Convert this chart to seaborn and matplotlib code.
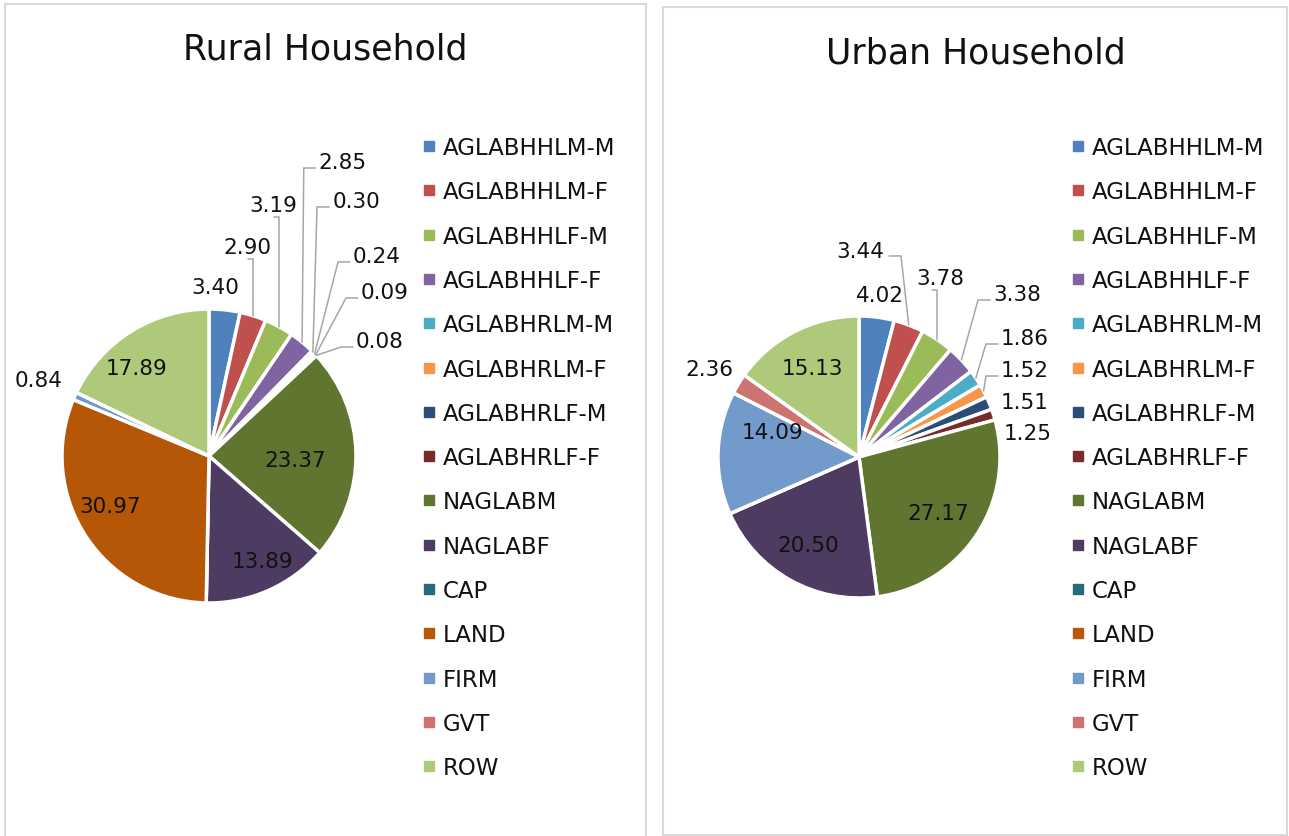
import numpy as np
import matplotlib
matplotlib.use('Agg')
import matplotlib.pyplot as plt
import seaborn as sns
from matplotlib.lines import Line2D

categories = ['AGLABHHLM-M', 'AGLABHHLM-F', 'AGLABHHLF-M', 'AGLABHHLF-F',
              'AGLABHRLM-M', 'AGLABHRLM-F', 'AGLABHRLF-M', 'AGLABHRLF-F',
              'NAGLABM', 'NAGLABF', 'CAP', 'LAND', 'FIRM', 'GVT', 'ROW']
rural = [3.40, 2.90, 3.19, 2.85, 0.30, 0.24, 0.09, 0.08,
         23.37, 13.89, 0.0, 30.97, 0.84, 0.0, 17.89]
urban = [4.02, 3.44, 3.78, 3.38, 1.86, 1.52, 1.51, 1.25,
         27.17, 20.50, 0.0, 0.0, 14.09, 2.36, 15.13]
titles = ['Rural Household', 'Urban Household']

colors = ['#4F81BD', '#C0504D', '#9BBB59', '#8064A2', '#4BACC6', '#F79646',
          '#2C4D75', '#772C2A', '#5F7530', '#4D3B62', '#276A7C', '#B65708',
          '#729ACA', '#CD7371', '#AFC97A']

# label placement (in pie-radius units) and leader style, one per slice
rural_lab = [(0.04, 1.15, None), (0.26, 1.42, 'bottom'), (0.435, 1.71, 'bottom'),
             (0.91, 2.0, 'left'), (1.0, 1.735, 'left'), (1.143, 1.361, 'left'),
             (1.197, 1.116, 'left'), (1.163, 0.782, 'left'),
             (0.585, -0.027, None), (0.361, -0.714, None), None,
             (-0.673, -0.34, None), (-1.156, 0.517, None), None, (-0.49, 0.599, None)]
urban_lab = [(0.149, 1.149, None), (0.007, 1.461, 'right'), (0.574, 1.27, 'bottom'),
             (1.121, 1.156, 'left'), (1.177, 0.844, 'left'), (1.177, 0.617, 'left'),
             (1.177, 0.39, None), (1.199, 0.17, None),
             (0.56, -0.397, None), (-0.362, -0.624, None), None, None,
             (-0.61, 0.177, None), (-1.064, 0.624, None), (-0.333, 0.631, None)]

sns.set_theme(style='white')
plt.rcParams['font.family'] = ['DejaVu Sans']

W, H = 1289, 837
fig = plt.figure(figsize=(W / 100, H / 100), dpi=100)


def panel(box, center, r, vals, labs, title, title_xy, leg_x):
    x0, y0, x1, y1 = box  # pixel box, y measured from top
    ax = fig.add_axes([x0 / W, 1 - y1 / H, (x1 - x0) / W, (y1 - y0) / H])
    cx, cy = center
    px = 1 / r
    wedges, _ = ax.pie(vals, colors=colors, startangle=90, counterclock=False,
                       wedgeprops=dict(edgecolor='white', linewidth=2.5))
    ax.set_aspect('auto')
    ax.set_xlim((x0 - cx) / r, (x1 - cx) / r)
    ax.set_ylim((cy - y1) / r, (cy - y0) / r)
    ax.set_frame_on(True)
    ax.set_xticks([])
    ax.set_yticks([])
    for s in ax.spines.values():
        s.set_color('#D9D9D9')
        s.set_linewidth(1.5)

    for w, v, pos in zip(wedges, vals, labs):
        if pos is None:
            continue
        tx, ty, kind = pos
        ax.text(tx, ty, f'{v:.2f}', ha='center', va='center', fontsize=15.5, color='#111111')
        if kind is None:
            continue
        th = np.deg2rad((w.theta1 + w.theta2) / 2)
        ex, ey = np.cos(th), np.sin(th)
        hw = 24 * px
        if kind == 'left':
            ax_, ay_ = tx - hw - 3 * px, ty - 6 * px
            bx, by = ax_ - 12 * px, ay_
        elif kind == 'right':
            ax_, ay_ = tx + hw + 5 * px, ty - 5 * px
            bx, by = ax_ + 12 * px, ay_
        else:
            by = ty - 12 * px
            bx = ex
            ax_, ay_ = ex - 5 * px, by
        ax.plot([ax_, bx, ex], [ay_, by, ey], color='#A6A6A6', lw=1.1,
                solid_joinstyle='miter')

    fig.text(title_xy[0] / W, 1 - title_xy[1] / H, title, fontsize=25,
             ha='center', va='center', color='#111111')

    handles = [Line2D([], [], marker='s', color=c, linestyle='None', markersize=7)
               for c in colors]
    fig.legend(handles, categories, loc='upper left',
               bbox_to_anchor=(leg_x / W, 1 - 137 / H), frameon=False,
               fontsize=16.5, labelspacing=0.93, handlelength=0.5,
               handletextpad=0.35, borderpad=0, borderaxespad=0, labelcolor='#111111')
    return ax


ax1 = panel((5, 5, 646, 845), (209, 457), 147, rural, rural_lab, titles[0], (325, 50), 423)
ax1.spines['bottom'].set_visible(False)
ax2 = panel((663, 8, 1287, 836), (859, 458), 141, urban, urban_lab, titles[1], (976, 53), 1072)

plt.savefig('out.png', dpi=100, facecolor='white')
